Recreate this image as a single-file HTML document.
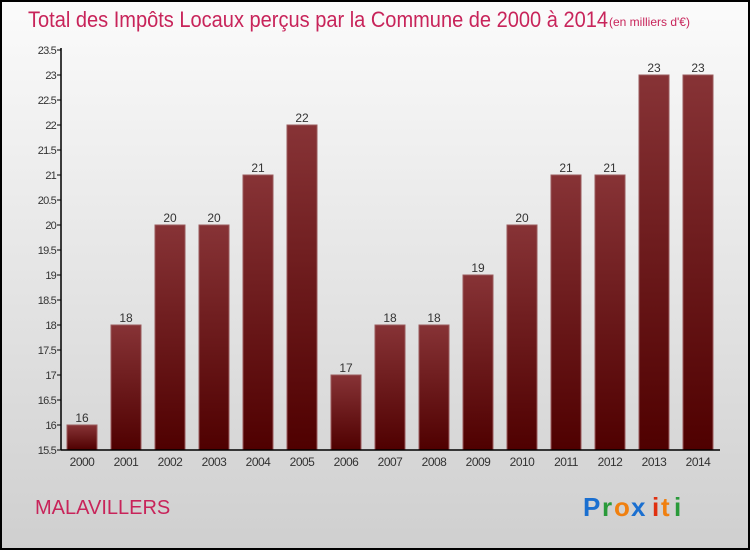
<!DOCTYPE html>
<html><head><meta charset="utf-8"><style>
body{margin:0;width:750px;height:550px;overflow:hidden}
svg{display:block}
text{font-family:"Liberation Sans",sans-serif}
</style></head><body>
<svg id="c" width="750" height="550" xmlns="http://www.w3.org/2000/svg">
<defs>
<linearGradient id="bg" x1="0" y1="0" x2="0" y2="1"><stop offset="0" stop-color="#fbfbfb"/><stop offset="1" stop-color="#cfcfcf"/></linearGradient>
<linearGradient id="bar" x1="0" y1="0" x2="0" y2="1"><stop offset="0" stop-color="#873336"/><stop offset="1" stop-color="#4f0000"/></linearGradient>
</defs>
<rect x="1" y="1" width="748" height="548" fill="url(#bg)" stroke="#000" stroke-width="2"/>
<text x="28" y="27" font-size="22" fill="#c8245a" textLength="580" lengthAdjust="spacingAndGlyphs">Total des Impôts Locaux perçus par la Commune de 2000 à 2014</text>
<text x="609" y="26" font-size="12" fill="#c8245a">(en milliers d'€)</text>
<g id="plot"></g>
<text x="35" y="514" font-size="20" fill="#c8245a">MALAVILLERS</text>
<g font-size="26" font-weight="bold">
<text x="583" y="516" fill="#1a6fd0">P</text><text x="602" y="516" fill="#2a9a3a">r</text><text x="614" y="516" fill="#f08010">o</text><text x="631" y="516" fill="#1a6fd0">x</text><text x="652" y="516" fill="#e03010">i</text><text x="661" y="516" fill="#f08010">t</text><text x="674" y="516" fill="#2a9a3a">i</text>
</g>
</svg>
<script>
const years=["2000","2001","2002","2003","2004","2005","2006","2007","2008","2009","2010","2011","2012","2013","2014"];
const values=[16,18,20,20,21,22,17,18,18,19,20,21,21,23,23];
const ticks=[15.5,16,16.5,17,17.5,18,18.5,19,19.5,20,20.5,21,21.5,22,22.5,23,23.5];
const NS="http://www.w3.org/2000/svg";
const g=document.getElementById('plot');
const y=v=>450-(v-15.5)*50;
const x=i=>82+i*44;
function el(t,a,txt){const e=document.createElementNS(NS,t);for(const k in a)e.setAttribute(k,a[k]);if(txt!==undefined)e.textContent=txt;g.appendChild(e);return e;}
ticks.forEach(t=>{
 const l=el('line',{x1:57,x2:61,y1:y(t),y2:y(t),stroke:'#000'});
 
 
 const tx=el('text',{x:56,y:y(t)+4,'font-size':11,fill:'#333','text-anchor':'end','letter-spacing':'-0.8'},String(t));
 
 
});
values.forEach((v,i)=>{
 const r=el('rect',{x:x(i)-15,y:y(v),width:30,height:450-y(v),fill:'url(#bar)',stroke:'#9a5a5c','stroke-width':1});
 
 
 const vt=el('text',{x:x(i),y:y(v)-3,'font-size':12,fill:'#333','text-anchor':'middle'},String(v));
 
 
 const xt=el('text',{x:x(i),y:466,'font-size':12,fill:'#333','text-anchor':'middle','letter-spacing':'-0.5'},years[i]);
 
 
});
const ya=el('line',{x1:61,x2:61,y1:48,y2:450,stroke:'#000','stroke-width':1.5});


const xa=el('line',{x1:61,x2:720,y1:450,y2:450,stroke:'#000','stroke-width':1.5});


</script>
</body></html>
